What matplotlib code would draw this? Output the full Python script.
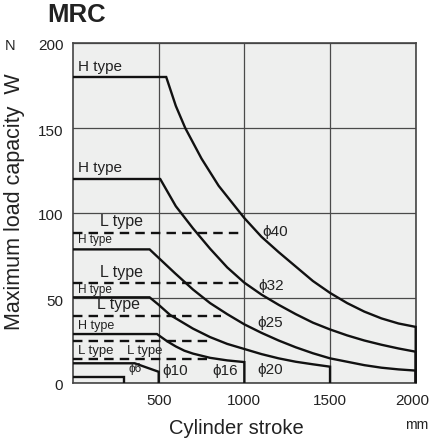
import matplotlib
matplotlib.use("Agg")
import matplotlib.pyplot as plt
from matplotlib.transforms import ScaledTranslation

plt.rcParams['font.family'] = ['Liberation Sans', 'DejaVu Sans']

# Allowable load W (N) against cylinder stroke (mm), per bore size
phi40_x = [0, 544, 600, 655, 750, 850, 1000, 1100, 1200, 1300, 1400, 1500, 1600, 1700, 1800, 1900, 2000, 2000]
phi40_y = [180, 180, 163, 150, 132, 116, 97, 86, 77, 68.5, 60, 53, 47, 42, 38, 35, 33, 0]

phi32_x = [0, 509, 600, 700, 800, 900, 1000, 1100, 1200, 1300, 1400, 1500, 1600, 1700, 1800, 1900, 2000, 2000]
phi32_y = [120, 120, 104, 91, 79, 68, 59, 52, 46, 40.5, 35.5, 31.5, 28, 25, 22.5, 20.3, 18.4, 0]

phi25_x = [0, 447, 596, 700, 800, 900, 1000, 1100, 1200, 1300, 1400, 1500, 1600, 1700, 1800, 1900, 2000, 2000]
phi25_y = [78.6, 78.6, 64.5, 55, 47, 40.5, 34.5, 29.5, 25, 21, 17.5, 14.5, 12.5, 10.5, 9, 8, 7.3, 0]

phi20_x = [0, 447, 500, 567, 700, 800, 900, 1000, 1100, 1200, 1300, 1400, 1500, 1500]
phi20_y = [50.4, 50.4, 46, 40, 32, 27, 23, 20, 17, 14.5, 12.5, 11, 9.6, 0]

phi16_x = [0, 490, 550, 600, 650, 700, 800, 900, 1000, 1000]
phi16_y = [28.8, 28.8, 24.5, 21.5, 19, 17.3, 14.8, 13.3, 12.3, 0]

phi10_x = [0, 360, 500, 500]
phi10_y = [11.6, 11.6, 6.6, 0]

phi6_x = [0, 300, 300]
phi6_y = [3.7, 3.7, 0]

# L type limits (dashed)
ltype_loads = [88, 59, 39.4, 24.9, 14.1]
ltype_ends = [1000, 990, 865, 790, 782]

solid_curves = [(phi40_x, phi40_y), (phi32_x, phi32_y), (phi25_x, phi25_y),
                (phi20_x, phi20_y), (phi16_x, phi16_y), (phi10_x, phi10_y),
                (phi6_x, phi6_y)]

x_ticks = [500, 1000, 1500, 2000]
y_ticks = [0, 50, 100, 150, 200]

fig = plt.figure(figsize=(4.33, 4.43), dpi=100)
ax = fig.add_axes([73 / 433, 60 / 443, (415.7 - 73) / 433, (383 - 43) / 443])
ax.set_facecolor('#eeefee')
ax.set_xlim(0, 2000)
ax.set_ylim(0, 200)
ax.set_xticks(x_ticks)
ax.set_xticklabels([str(v) for v in x_ticks])
ax.set_yticks(y_ticks)
ax.set_yticklabels([str(v) for v in y_ticks])
ax.tick_params(length=0, labelsize=11, colors='#222222')
ax.tick_params(axis='x', pad=8)
ax.tick_params(axis='y', pad=7)
for s in ax.spines.values():
    s.set_color('#444444')
    s.set_linewidth(1.2)
ax.grid(True, color='#4a4a4a', linewidth=0.9)
ax.set_axisbelow(True)

# keep the last stroke label inside the figure edge
last = ax.xaxis.get_major_ticks()[-1].label1
last.set_transform(last.get_transform() + ScaledTranslation(-3 / 100, 0, fig.dpi_scale_trans))
# y labels sit a touch below their grid lines
for t in ax.yaxis.get_major_ticks():
    lab = t.label1
    lab.set_transform(lab.get_transform() + ScaledTranslation(0, -2 / 100, fig.dpi_scale_trans))

for xs, ys in solid_curves:
    ax.plot(xs, ys, color='#111111', linewidth=1.7, solid_joinstyle='miter',
            solid_capstyle='butt', clip_on=False, zorder=3)

for load, end in zip(ltype_loads, ltype_ends):
    ax.plot([0, end], [load, load], color='#111111', linewidth=1.7,
            linestyle=(0, (4, 2.6)), dash_capstyle='butt', zorder=3)

txt = dict(color='#222222', va='center', zorder=4)
ax.text(29, 186, 'H type', fontsize=11, **txt)
ax.text(29, 126.5, 'H type', fontsize=11, **txt)
ax.text(158, 95, 'L type', fontsize=11.5, **txt)
ax.text(29, 84, 'H type', fontsize=8.5, **txt)
ax.text(158, 65, 'L type', fontsize=11.5, **txt)
ax.text(29, 55, 'H type', fontsize=8.5, **txt)
ax.text(140, 46, 'L type', fontsize=11.5, **txt)
ax.text(29, 33.5, 'H type', fontsize=9, **txt)
ax.text(29, 18.8, 'L type', fontsize=9.5, **txt)
ax.text(315, 18.8, 'L type', fontsize=9.5, **txt)
ax.text(322, 8, 'ϕ6', fontsize=8.5, **txt)
ax.text(520, 7, 'ϕ10', fontsize=11, **txt)
ax.text(812, 7, 'ϕ16', fontsize=11, **txt)
ax.text(1075, 7.6, 'ϕ20', fontsize=11, **txt)
ax.text(1075, 35, 'ϕ25', fontsize=11, **txt)
ax.text(1080, 57, 'ϕ32', fontsize=11, **txt)
ax.text(1104, 89, 'ϕ40', fontsize=11, **txt)

fig.text(47 / 433, 1 - 15 / 443, 'MRC', fontsize=18.5, fontweight='bold',
         color='#222222', va='center', ha='left')
fig.text(10 / 433, 1 - 46 / 443, 'N', fontsize=10.5, color='#222222',
         va='center', ha='center')
fig.text(417 / 433, 1 - 425 / 443, 'mm', fontsize=10, color='#222222',
         va='center', ha='center')
fig.text(236 / 433, 1 - 428 / 443, 'Cylinder stroke', fontsize=14.5,
         color='#222222', va='center', ha='center')
fig.text(15 / 433, 1 - 202 / 443, 'Maximum load capacity  W', fontsize=15.5,
         color='#222222', va='center', ha='center', rotation=90)

fig.savefig('out.png', dpi=100)
